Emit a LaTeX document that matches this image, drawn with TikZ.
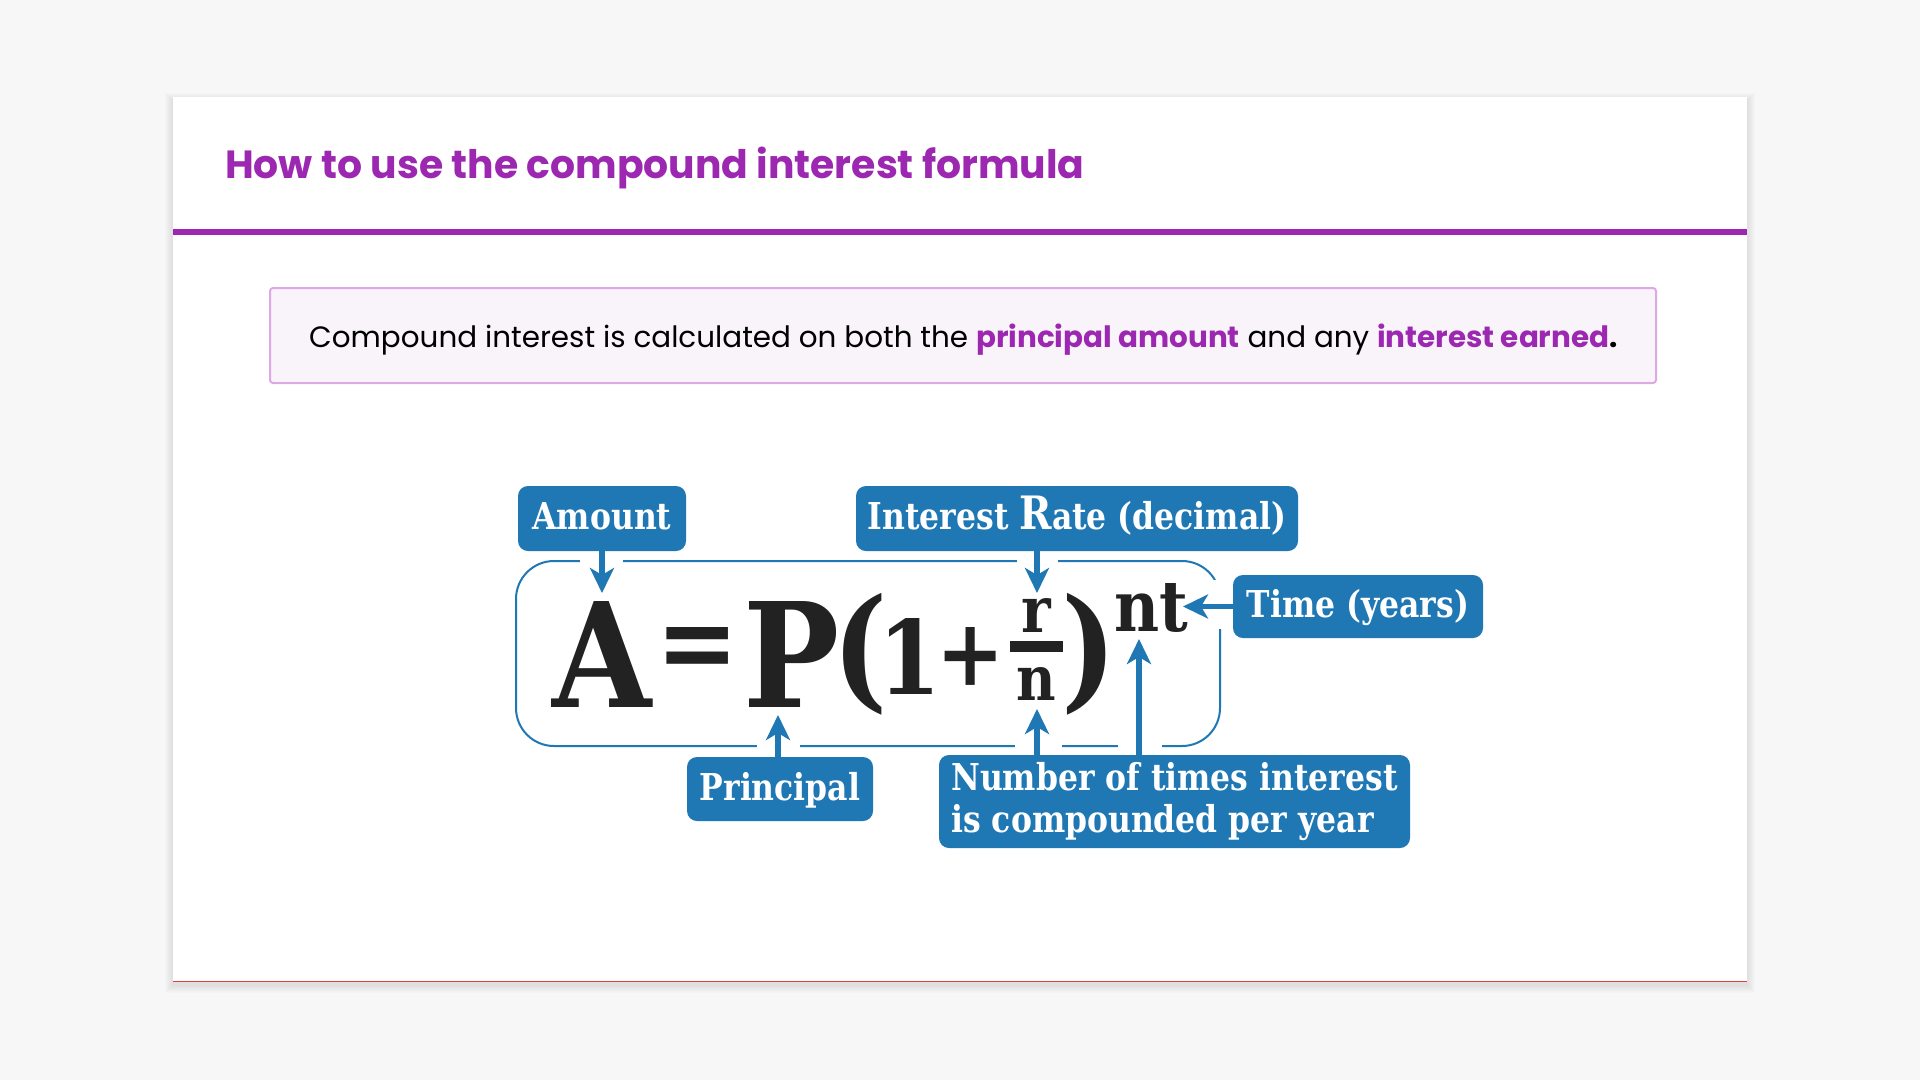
\documentclass[tikz,border=0pt]{standalone}
\usepackage{fontspec}
\setmainfont{Poppins}
\newfontfamily\labfont[FakeStretch=0.85]{DejaVu Serif}
\newfontfamily\fmlfont[FakeStretch=0.88]{DejaVu Serif}
\usetikzlibrary{arrows.meta}
\definecolor{bg}{HTML}{F7F7F7}
\definecolor{purp}{HTML}{9C27B0}
\definecolor{calfill}{HTML}{F9F3FA}
\definecolor{calline}{HTML}{DDA9E5}
\definecolor{blu}{HTML}{1F77B4}
\definecolor{inkc}{HTML}{222222}
\definecolor{redline}{HTML}{E0403A}
\tikzset{
  lbl/.style={fill=blu, rounded corners=10pt, text=white, inner sep=0pt,
    font=\labfont\bfseries\fontsize{37}{42}\selectfont, align=center},
  onelbl/.style={lbl, text height=26pt, text depth=4pt},
  glyph/.style={inner sep=0pt, text=inkc, font=\fmlfont\bfseries\fontsize{145}{145}\selectfont},
  arr/.style={blu, line width=5.5pt, -{Stealth[length=25pt,width=24pt,inset=7pt]}},
  gapcut/.style={fill=white, draw=none},
}
\begin{document}
\begin{tikzpicture}[x=1pt,y=-1pt]
\useasboundingbox (0,0) rectangle (1920,1080);
\fill[bg] (0,0) rectangle (1920,1080);
% card shadow
\foreach \i in {1,...,8}
  \fill[black, opacity=0.01] (173-\i,97-\i+4) rectangle (1747+\i,981+\i+4);
\fill[white] (173,97) rectangle (1747,981);
\draw[redline, line width=1pt] (173,981) -- (1747,981);
% title
\node[anchor=base west, inner sep=0pt, text=purp, font=\bfseries\fontsize{39.3}{47}\selectfont] (title) at (225,178) {How to use the compound interest formula};
\fill[purp] (173,229) rectangle (1747,235);
% callout
\node[draw=calline, fill=calfill, line width=2pt, rounded corners=3pt, minimum width=1386pt, minimum height=95pt, inner sep=0pt] (callout) at (963,335.5) {};
\node[anchor=base west, inner sep=0pt, font=\fontsize{29.4}{35}\selectfont, text=black] (lead) at (309,347) {Compound interest is calculated on both the \textcolor{purp}{\bfseries principal amount} and any \textcolor{purp}{\bfseries interest earned}\textbf{.}};
% formula frame
\draw[blu, line width=2pt, rounded corners=38pt] (516,561) rectangle (1220,746);
\fill[gapcut] (580,555) rectangle (623,567);
\fill[gapcut] (1017,555) rectangle (1058,567);
\fill[gapcut] (1213,580) rectangle (1227,629);
\fill[gapcut] (757,740) rectangle (800,752);
\fill[gapcut] (1015,740) rectangle (1062,752);
\fill[gapcut] (1118,740) rectangle (1162,752);
% formula glyphs
\node[glyph] (gA) at (602,654) {\makebox[0pt]{\resizebox*{!}{106pt}{A}}};
\node[glyph] (gEq) at (698,653.5) {\makebox[0pt]{\resizebox{60pt}{53pt}{\kern-0.1em=\kern-0.1em}}};
\node[glyph] (gP) at (792,654) {\makebox[0pt]{\resizebox*{!}{106pt}{P}}};
\node[glyph] (gL) at (860.5,654) {\makebox[0pt]{\resizebox*{!}{122pt}{(}}};
\node[glyph] (g1) at (909.5,656) {\makebox[0pt]{\resizebox*{!}{76pt}{1}}};
\node[glyph] (gPlus) at (970.5,656) {\makebox[0pt]{\resizebox*{!}{58pt}{+}}};
\node[glyph] (gr) at (1036.5,615) {\makebox[0pt]{\resizebox*{!}{34pt}{r}}};
\fill[inkc] (1010,641) rectangle (1063,652);
\node[glyph] (gn) at (1036,683.5) {\makebox[0pt]{\resizebox*{!}{33pt}{n}}};
\node[glyph] (gR) at (1089.5,654) {\makebox[0pt]{\resizebox*{!}{122pt}{)}}};
\node[glyph] (gnt) at (1151.5,607.5) {\makebox[0pt]{\resizebox*{!}{49pt}{nt}}};
% labels
\node[onelbl, minimum width=168pt, minimum height=65pt] (amount) at (602,518.5) {Amount};
\node[onelbl, minimum width=442pt, minimum height=65pt] (rate) at (1077,518.5) {Interest {\fontsize{46}{46}\selectfont R}ate (decimal)};
\node[onelbl, minimum width=250pt, minimum height=63pt] (time) at (1358,606.5) {Time (years)};
\node[onelbl, minimum width=186pt, minimum height=64pt] (principal) at (780,789) {Principal};
\node[lbl, minimum width=471pt, minimum height=93pt, align=left] (number) at (1174.5,801.5) {Number of times interest\\is compounded per year};
% arrows
\coordinate (tA) at (602,593);
\coordinate (tR) at (1037,593);
\coordinate (tT) at (1183,606.5);
\coordinate (tP) at (778,715);
\coordinate (tN1) at (1037,709);
\coordinate (tN2) at (1139,639);
\draw[arr] (amount.south) -- (tA);
\draw[arr] (rate.south -| tR) -- (tR);
\draw[arr] (time.west) -- (tT);
\draw[arr] (principal.north -| tP) -- (tP);
\draw[arr] (number.north -| tN1) -- (tN1);
\draw[arr] (number.north -| tN2) -- (tN2);
\end{tikzpicture}
\end{document}
